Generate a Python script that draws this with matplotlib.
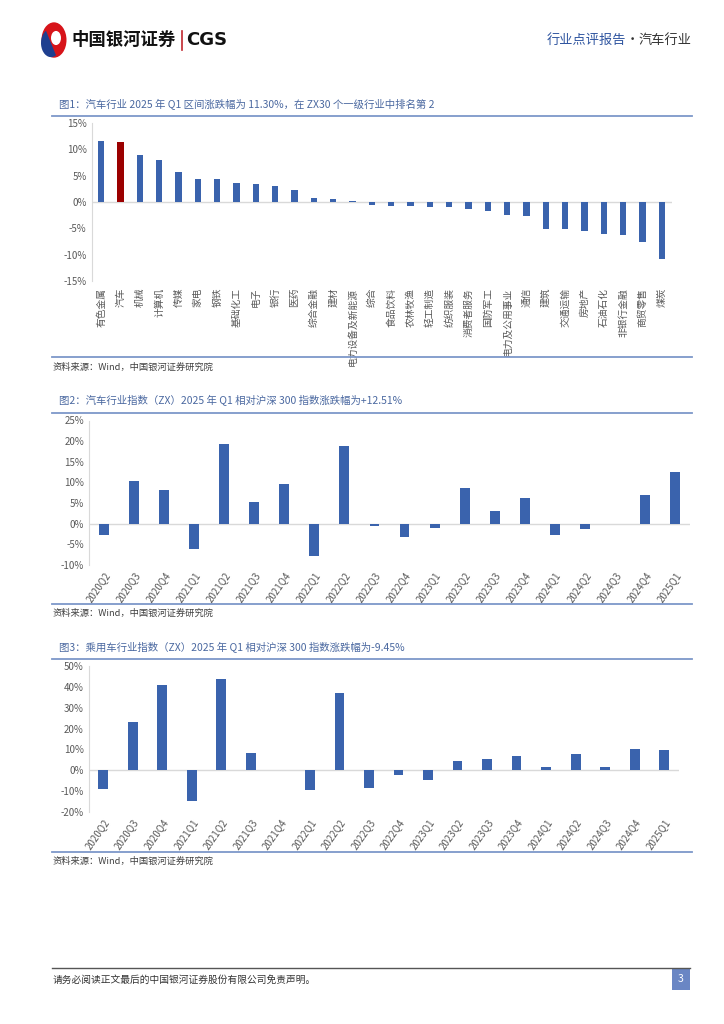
import matplotlib
matplotlib.use("Agg")
import matplotlib.pyplot as plt
from matplotlib.patches import Rectangle, Circle, Wedge
from matplotlib.lines import Line2D
from matplotlib.ticker import FuncFormatter

plt.rcParams['font.family'] = ['Noto Sans CJK SC', 'DejaVu Sans']

# ---------------- data ----------------
ind_names = ["有色金属", "汽车", "机械", "计算机", "传媒", "家电", "钢铁", "基础化工", "电子", "银行",
             "医药", "综合金融", "建材", "电力设备及新能源", "综合", "食品饮料", "农林牧渔", "轻工制造",
             "纺织服装", "消费者服务", "国防军工", "电力及公用事业", "通信", "建筑", "交通运输", "房地产",
             "石油石化", "非银行金融", "商贸零售", "煤炭"]
ind_returns = [11.5, 11.30, 8.9, 8.0, 5.7, 4.4, 4.3, 3.7, 3.5, 3.0,
               2.3, 0.8, 0.6, 0.1, -0.6, -0.8, -0.8, -1.0, -1.0, -1.3,
               -1.8, -2.5, -2.7, -5.2, -5.2, -5.5, -6.0, -6.2, -7.5, -10.8]
highlight = "汽车"

quarters = ["2020Q2", "2020Q3", "2020Q4", "2021Q1", "2021Q2", "2021Q3", "2021Q4", "2022Q1", "2022Q2", "2022Q3",
            "2022Q4", "2023Q1", "2023Q2", "2023Q3", "2023Q4", "2024Q1", "2024Q2", "2024Q3", "2024Q4", "2025Q1"]
auto_rel = [-2.8, 10.3, 8.1, -6.1, 19.3, 5.2, 9.7, -7.7, 18.8, -0.6,
            -3.2, -1.0, 8.6, 3.1, 6.2, -2.7, -1.4, 0.0, 7.0, 12.51]
car_rel = [-9.0, 23.3, 41.0, -14.8, 43.8, 8.1, 0.0, -9.5, 37.1, -8.6,
           -2.4, -4.8, 4.3, 5.2, 6.7, 1.4, 7.6, 1.4, 10.0, 9.5]

titles = ["图1：汽车行业 2025 年 Q1 区间涨跌幅为 11.30%，在 ZX30 个一级行业中排名第 2",
          "图2：汽车行业指数（ZX）2025 年 Q1 相对沪深 300 指数涨跌幅为+12.51%",
          "图3：乘用车行业指数（ZX）2025 年 Q1 相对沪深 300 指数涨跌幅为-9.45%"]
source = "资料来源：Wind，中国银河证券研究院"

# ---------------- styles ----------------
W, H = 724, 1024
BLUE = "#3a63ad"
RED = "#9b0000"
TITLE_C = "#4a68a0"
LINE_C = "#7d97c9"
TICK_C = "#595959"
AX_C = "#d9d9d9"

fig = plt.figure(figsize=(W / 100, H / 100), dpi=100)
fig.patch.set_facecolor("white")


def rect_px(l, t, r, b):
    return [l / W, 1 - b / H, (r - l) / W, (b - t) / H]


def fx(x):
    return x / W


def fy(y):
    return 1 - y / H


def hline(y, x0, x1, color, lw):
    fig.add_artist(Line2D([fx(x0), fx(x1)], [fy(y), fy(y)], color=color, lw=lw,
                          transform=fig.transFigure))


pct = FuncFormatter(lambda v, p: f"{v:.0f}%")


def style_ax(ax):
    for s in ["top", "right", "bottom"]:
        ax.spines[s].set_visible(False)
    ax.spines["left"].set_color(AX_C)
    ax.spines["left"].set_linewidth(0.8)
    ax.axhline(0, color=AX_C, lw=1.0, zorder=1)
    ax.tick_params(axis="both", length=0, colors=TICK_C, labelsize=7)
    ax.yaxis.set_major_formatter(pct)
    ax.set_facecolor("none")


# ---------------- header ----------------
fig.add_artist(Circle((fx(54), fy(40)), 12.5 / W, transform=fig.transFigure,
                      facecolor="#d7141a", edgecolor="none"))
fig.add_artist(Wedge((fx(51), fy(43)), 10 / W, 120, 300, transform=fig.transFigure,
                     facecolor="#1f3f8f", edgecolor="none"))
fig.add_artist(Circle((fx(56), fy(38)), 5 / W, transform=fig.transFigure,
                      facecolor="white", edgecolor="none"))
fig.text(fx(71), fy(40), "中国银河证券", fontsize=12.5, fontweight="bold", color="#111111",
         ha="left", va="center")
fig.add_artist(Line2D([fx(182), fx(182)], [fy(31), fy(50)], color="#c0262d", lw=1.2,
                      transform=fig.transFigure))
fig.text(fx(186), fy(40), "CGS", fontsize=13, fontweight="bold", color="#111111",
         ha="left", va="center", family="DejaVu Sans")
fig.text(fx(639), fy(40), "汽车行业", fontsize=9.5, color="#333333", ha="left", va="center")
fig.text(fx(632), fy(40), "·", fontsize=9.5, color="#333333", ha="center", va="center")
fig.text(fx(626), fy(40), "行业点评报告", fontsize=9.5, color="#2f55a0", ha="right", va="center")

# ---------------- chart 1 ----------------
fig.text(fx(59), fy(105), titles[0], fontsize=7.5, color=TITLE_C, ha="left", va="center")
hline(116, 52, 692, LINE_C, 1.3)
ax1 = fig.add_axes(rect_px(91.5, 123, 671.5, 281))
x1 = list(range(len(ind_names)))
colors1 = [RED if n == highlight else BLUE for n in ind_names]
ax1.bar(x1, ind_returns, width=0.32, color=colors1, zorder=2)
ax1.set_xlim(-0.5, len(ind_names) - 0.5)
ax1.set_ylim(-15, 15)
ax1.set_yticks([15, 10, 5, 0, -5, -10, -15])
ax1.set_xticks(x1)
ax1.set_xticklabels(ind_names, rotation=90, fontsize=7, color=TICK_C)
style_ax(ax1)
ax1.tick_params(axis="x", pad=5)
hline(357, 52, 692, LINE_C, 1.3)
fig.text(fx(53), fy(367), source, fontsize=6.7, color="#404040", ha="left", va="center")

# ---------------- chart 2 ----------------
fig.text(fx(59), fy(401), titles[1], fontsize=7.5, color=TITLE_C, ha="left", va="center")
hline(413, 52, 692, LINE_C, 1.3)
ax2 = fig.add_axes(rect_px(89, 420.5, 690, 565))
x2 = list(range(len(quarters)))
ax2.bar(x2, auto_rel, width=0.33, color=BLUE, zorder=2)
ax2.set_xlim(-0.5, len(quarters) - 0.5)
ax2.set_ylim(-10, 25)
ax2.set_yticks([25, 20, 15, 10, 5, 0, -5, -10])
ax2.set_xticks(x2)
ax2.set_xticklabels(quarters, rotation=55, ha="right", rotation_mode="anchor", fontsize=6.8)
style_ax(ax2)
ax2.tick_params(axis="x", pad=4)
hline(604, 52, 692, LINE_C, 1.3)
fig.text(fx(53), fy(613), source, fontsize=6.7, color="#404040", ha="left", va="center")

# ---------------- chart 3 ----------------
fig.text(fx(59), fy(648), titles[2], fontsize=7.5, color=TITLE_C, ha="left", va="center")
hline(659, 52, 692, LINE_C, 1.3)
ax3 = fig.add_axes(rect_px(88.5, 666, 679, 812))
x3 = list(range(len(quarters)))
ax3.bar(x3, car_rel, width=0.33, color=BLUE, zorder=2)
ax3.set_xlim(-0.5, len(quarters) - 0.5)
ax3.set_ylim(-20, 50)
ax3.set_yticks([50, 40, 30, 20, 10, 0, -10, -20])
ax3.set_xticks(x3)
ax3.set_xticklabels(quarters, rotation=55, ha="right", rotation_mode="anchor", fontsize=6.8)
style_ax(ax3)
ax3.tick_params(axis="x", pad=4)
hline(852, 52, 692, LINE_C, 1.3)
fig.text(fx(53), fy(861), source, fontsize=6.7, color="#404040", ha="left", va="center")

# ---------------- footer ----------------
hline(968, 52, 690, "#555555", 1.0)
fig.text(fx(53), fy(980), "请务必阅读正文最后的中国银河证券股份有限公司免责声明。", fontsize=7,
         color="#333333", ha="left", va="center")
fig.add_artist(Rectangle((fx(672), fy(990)), 18 / W, 21 / H, transform=fig.transFigure,
                         facecolor="#6a86c4", edgecolor="none"))
fig.text(fx(681), fy(979.5), "3", fontsize=7.5, color="white", ha="center", va="center")

fig.savefig("out.png", dpi=100, facecolor="white")
